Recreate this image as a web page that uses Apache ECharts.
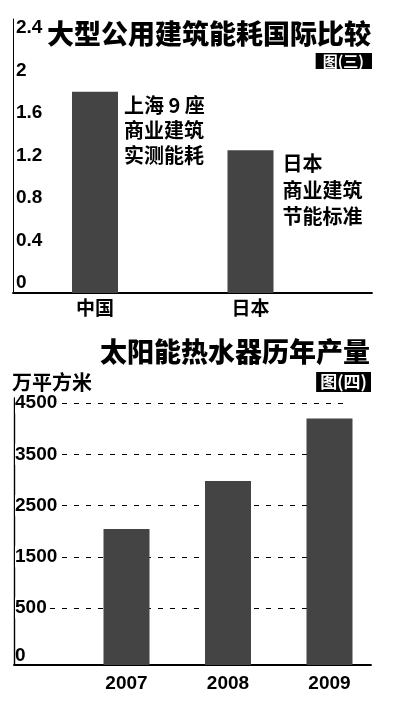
<!DOCTYPE html>
<html>
<head>
<meta charset="utf-8">
<script src="https://cdn.jsdelivr.net/npm/echarts@6/dist/echarts.min.js"></script>
<style>
  html, body { margin: 0; background: #fff; }
  #main { width: 400px; height: 716px; }
</style>
</head>
<body>
<div id="main"></div>
<script>
// chart 1: energy use of large public buildings
const cats1 = ['中国', '日本'];
const vals1 = [1.8, 1.25];
const notes1 = ['上海 9 座\n商业建筑\n实测能耗', '日本\n商业建筑\n节能标准'];
const yTicks1 = [0, 0.4, 0.8, 1.2, 1.6, 2, 2.4];

// chart 2: solar water heater output (万平方米)
const years = ['2007', '2008', '2009'];
const output = [2040, 2980, 4200];
const yTicks2 = [0, 500, 1500, 2500, 3500, 4500];

const CJK = '"Noto Sans CJK SC", sans-serif';
const NUM = '"Liberation Sans", Arial, sans-serif';
const BAR = '#444444';

// both charts start their bars at the bottom of the axis, a little below 0
const y1Min = -0.094;
const y2Min = -612;
// bottom chart: the "0" label sits on the baseline
const y2Pos = yTicks2.map(v => (v === 0 ? y2Min : v));

// bars drawn from the axis bottom up to the value
function barItem(yMin, notes) {
  return function (params, api) {
    const i = api.value(0);
    const top = api.coord([i, api.value(1)]);
    const base = api.coord([i, yMin]);
    const w = 46;
    const rect = {
      type: 'rect',
      shape: { x: top[0] - w / 2, y: top[1], width: w, height: base[1] - top[1] },
      style: { fill: BAR }
    };
    if (notes) {
      rect.textContent = {
        style: {
          text: notes[i],
          fontFamily: CJK, fontSize: 20, fontWeight: 'bold', fill: '#000',
          lineHeight: i === 0 ? 25 : 26.5,
          align: 'left', verticalAlign: 'top'
        }
      };
      rect.textConfig = { position: ['100%', 0], offset: i === 0 ? [6, 1] : [9, 0] };
    }
    return rect;
  };
}

let myChart = echarts.init(document.getElementById('main'));

let options = {
  backgroundColor: '#fff',
  animation: false,
  title: [
    {
      text: '大型公用建筑能耗国际比较',
      left: 47, top: 20, padding: 0,
      textStyle: { fontFamily: CJK, fontSize: 27, fontWeight: 900, color: '#000' }
    },
    {
      text: '图(三)',
      right: 28, top: 53, padding: [0, 8, 0, 7],
      backgroundColor: '#000',
      textStyle: { fontFamily: CJK, fontSize: 15, lineHeight: 16, fontWeight: 'bold', color: '#fff' }
    },
    {
      text: '太阳能热水器历年产量',
      right: 30, top: 338, padding: 0,
      textStyle: { fontFamily: CJK, fontSize: 27, fontWeight: 900, color: '#000' }
    },
    {
      text: '万平方米',
      left: 12, top: 372, padding: 0,
      textStyle: { fontFamily: CJK, fontSize: 20, fontWeight: 'bold', color: '#000' }
    },
    {
      text: '图(四)',
      right: 29, top: 372, padding: [0, 4],
      backgroundColor: '#000',
      textStyle: { fontFamily: CJK, fontSize: 17, lineHeight: 20, fontWeight: 'bold', color: '#fff' }
    }
  ],
  grid: [
    { left: 13, right: 28, top: 19, bottom: 423 },
    { left: 14, right: 50, top: 398, bottom: 51 },
    { left: 14, right: 29, top: 398, bottom: 51 }
  ],
  xAxis: [
    {
      gridIndex: 0, type: 'value', min: -0.5273, max: 1.7814,
      axisLine: { show: true, onZero: false, lineStyle: { color: '#000', width: 1.8 } },
      axisTick: { show: false },
      splitLine: { show: false },
      axisLabel: {
        customValues: cats1.map((c, i) => i),
        formatter: v => cats1[v] || '',
        margin: 5,
        fontFamily: CJK, fontSize: 19, fontWeight: 'bold', color: '#000'
      }
    },
    {
      gridIndex: 1, type: 'value', min: -1.1084, max: 2.202,
      axisLine: { show: false },
      axisTick: { show: false },
      splitLine: { show: false },
      axisLabel: {
        customValues: years.map((y, i) => i),
        formatter: v => years[v] || '',
        margin: 9,
        fontFamily: NUM, fontSize: 19, fontWeight: 'bold', color: '#000'
      }
    },
    {
      gridIndex: 2, type: 'value', min: 0, max: 1,
      axisLine: { show: true, onZero: false, lineStyle: { color: '#000', width: 1.8 } },
      axisTick: { show: false },
      splitLine: { show: false },
      axisLabel: { show: false }
    }
  ],
  yAxis: [
    {
      gridIndex: 0, type: 'value', min: y1Min, max: 2.485,
      axisLine: { show: true, onZero: false, lineStyle: { color: '#000', width: 1 } },
      axisTick: { show: false },
      splitLine: { show: false },
      axisLabel: {
        inside: true, margin: 3,
        customValues: yTicks1,
        formatter: v => String(v),
        fontFamily: NUM, fontSize: 19, fontWeight: 'bold', color: '#000'
      }
    },
    {
      // dashed guide lines only
      gridIndex: 1, type: 'value', min: y2Min, max: 4598,
      axisLine: { show: false },
      axisTick: { show: false, customValues: yTicks2.filter(v => v > 0) },
      splitLine: { show: true, lineStyle: { color: '#000', width: 1.2, type: [5, 7] } },
      axisLabel: { show: false }
    },
    {
      // axis line and tick labels, drawn over the guide lines
      gridIndex: 2, type: 'value', min: y2Min, max: 4598, z: 3,
      axisLine: { show: true, onZero: false, lineStyle: { color: '#000', width: 1.4 } },
      axisTick: { show: false },
      splitLine: { show: false },
      axisLabel: {
        inside: true, margin: 1,
        customValues: y2Pos,
        formatter: v => {
          const t = yTicks2[y2Pos.indexOf(v)];
          return t === 0 ? '{z|0}' : '{n|' + t + '}';
        },
        rich: {
          n: { fontFamily: NUM, fontSize: 19, fontWeight: 'bold', color: '#000', backgroundColor: '#fff', padding: [1, 3, 1, 0] },
          z: { fontFamily: NUM, fontSize: 19, fontWeight: 'bold', color: '#000', padding: [0, 0, 18, 0] }
        }
      }
    }
  ],
  series: [
    {
      type: 'custom',
      xAxisIndex: 0, yAxisIndex: 0,
      renderItem: barItem(y1Min, notes1),
      data: cats1.map((c, i) => [i, vals1[i]])
    },
    {
      type: 'custom',
      xAxisIndex: 1, yAxisIndex: 1,
      renderItem: barItem(y2Min, null),
      data: years.map((y, i) => [i, output[i]])
    }
  ]
};

myChart.setOption(options);
</script>
</body>
</html>
